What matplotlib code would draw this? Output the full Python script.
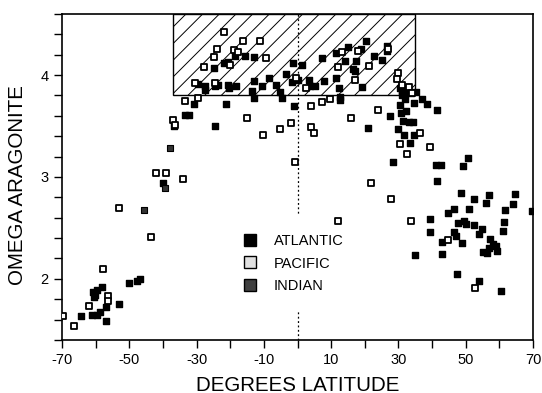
import numpy as np
import matplotlib.pyplot as plt
from matplotlib.lines import Line2D
from matplotlib.patches import Rectangle
from matplotlib.ticker import MultipleLocator, FixedLocator

plt.rcParams['font.family'] = ['Liberation Sans', 'DejaVu Sans']
plt.rcParams['hatch.linewidth'] = 0.7

# Atlantic stations (filled squares)
atl_lat = [-64.4, -61.2, -59.7, -58.8, -60.7, -60.2, -59.5, -58.2, -60.4, -57.0,
           -56.8, -53.1, -50.1, -47.8, -46.8, -40.1, -33.5, -32.3,
           -30.8, -24.6, -21.2, -36.7,
           -21.9, -20.7, -18.7, -15.7, -13.0, -24.8, -29.6, -27.4, -27.6, -24.6,
           -23.7, -20.7, -20.4, -18.2, -13.0, -13.6, -12.8, -10.6, -8.6, -6.3,
           -5.3, -4.6, -1.2, -1.6, -3.3, -0.9,
           1.4, 7.2, 11.3, 14.9, 14.2, 17.4, 16.4, 17.0, 18.9, 20.4, 22.8, 25.1,
           26.5, 26.5, 11.5, 0.1, 3.4, 3.6, 5.3, 8.0, 12.3, 12.5, 19.2, 12.7, 20.9,
           30.5, 31.2, 32.5, 33.8, 31.0, 32.0, 31.8, 35.2, 34.7, 37.0, 38.4, 41.6,
           30.5, 27.5, 30.8, 32.3, 31.3, 33.2, 34.2, 29.8, 31.8, 34.7, 33.5, 28.5,
           41.3, 42.6, 49.3, 50.7, 41.6, 48.6, 52.5, 57.0, 56.0, 64.7, 64.1,
           46.6, 44.6, 51.0, 61.7, 69.6, 39.4, 39.4, 47.6, 49.6, 50.1, 52.5, 54.8,
           53.8, 61.4, 61.1, 46.6, 47.1, 48.9, 42.9, 57.2, 58.2, 56.8, 55.0, 56.2,
           59.4, 58.9, 35.0, 42.9, 47.3, 53.8, 60.4]
atl_om = [1.64, 1.65, 1.65, 1.67, 1.87, 1.84, 1.89, 1.92, 1.82, 1.72,
          1.59, 1.75, 1.96, 1.98, 2.00, 2.94, 3.61, 3.61,
          3.72, 3.50, 3.72, 3.50,
          4.12, 4.13, 4.19, 4.19, 4.18, 4.07, 3.91, 3.89, 3.85, 3.89,
          3.90, 3.90, 3.87, 3.89, 3.94, 3.84, 3.78, 3.89, 3.97, 3.90,
          3.83, 3.78, 4.12, 3.93, 4.01, 3.70,
          4.10, 4.17, 4.22, 4.28, 4.14, 4.14, 4.06, 4.04, 4.26, 4.33, 4.19, 4.15,
          4.29, 4.24, 3.97, 3.95, 3.95, 3.89, 3.89, 3.94, 3.87, 3.79, 3.88, 3.76, 3.48,
          3.87, 3.84, 3.88, 3.82, 3.80, 3.77, 3.83, 3.83, 3.73, 3.77, 3.72, 3.66,
          3.71, 3.60, 3.63, 3.65, 3.55, 3.54, 3.54, 3.47, 3.41, 3.41, 3.33, 3.15,
          3.12, 3.12, 3.11, 3.19, 2.96, 2.84, 2.78, 2.82, 2.74, 2.83, 2.73,
          2.69, 2.65, 2.69, 2.68, 2.67, 2.59, 2.46, 2.55, 2.57, 2.54, 2.53, 2.49,
          2.44, 2.56, 2.47, 2.46, 2.42, 2.35, 2.36, 2.39, 2.34, 2.30, 2.26, 2.25,
          2.27, 2.32, 2.23, 2.24, 2.05, 1.98, 1.88]

# Pacific stations (open squares)
pac_lat = [-69.6, -66.4, -61.9, -57.9, -56.3, -56.4, -53.1, -43.6, -42.2, -39.1,
           -34.0, -37.0, -36.4, -33.5, -29.6,
           -21.7, -16.1, -11.1, -24.0, -24.7, -18.9, -17.7, -9.5, -27.9, -20.0,
           -30.6, -24.6, -14.9, -10.3, -5.3, -2.0, -0.8, -0.5,
           13.3, 17.9, 21.4, 12.0, 17.2, 2.6, 29.8, 29.5, 31.2, 33.0, 3.9, 7.3,
           9.7, 15.9, 23.8, 4.1, 5.0, 12.1, 21.9, 27.8, 36.4, 30.5, 32.4, 39.4,
           33.7, 44.6, 52.8, 26.8, 34.1]
pac_om = [1.64, 1.54, 1.73, 2.10, 1.83, 1.78, 2.70, 2.41, 3.04, 3.04,
          2.98, 3.56, 3.51, 3.75, 3.78,
          4.42, 4.33, 4.33, 4.26, 4.18, 4.25, 4.23, 4.17, 4.08, 4.10,
          3.92, 3.92, 3.58, 3.41, 3.47, 3.53, 3.15, 3.97,
          4.23, 4.24, 4.09, 4.08, 3.95, 3.87, 4.02, 3.96, 3.90, 3.88, 3.70, 3.74,
          3.77, 3.58, 3.66, 3.49, 3.43, 2.57, 2.94, 2.78, 3.43, 3.32, 3.23, 3.29,
          2.57, 2.38, 1.91, 4.26, 3.82]

# Indian stations (dark stippled squares)
ind_lat = [-38.0, -45.6, -39.4]
ind_om = [3.28, 2.68, 2.89]

# hatched band
box_lat = [-37, 35]
box_om = [3.8, 4.6]

fig = plt.figure(figsize=(5.42, 3.93), dpi=100)
ax = fig.add_axes([0.1144, 0.1349, 0.869, 0.8295])

ax.add_patch(Rectangle((box_lat[0], box_om[0]), box_lat[1] - box_lat[0],
                       box_om[1] - box_om[0], facecolor='none', edgecolor='black',
                       hatch='//', lw=1.0, zorder=1))
ax.axvline(0, color='black', ls=(0, (1.5, 2)), lw=0.9, zorder=1)

ax.scatter(atl_lat, atl_om, marker='s', s=24, c='black', zorder=3)
ax.scatter(pac_lat, pac_om, marker='s', s=18, facecolor='white',
           edgecolor='black', linewidths=1.3, zorder=3)
ax.scatter(ind_lat, ind_om, marker='s', s=24, facecolor='0.2',
           edgecolor='black', linewidths=0.8, zorder=3)

handles = [
    Line2D([], [], marker='s', ls='none', ms=8.5, mfc='black', mec='black'),
    Line2D([], [], marker='s', ls='none', ms=8, mfc='0.88', mec='black', mew=1.0),
    Line2D([], [], marker='s', ls='none', ms=8.5, mfc='0.25', mec='black'),
]
leg = ax.legend(handles, ['ATLANTIC', 'PACIFIC', 'INDIAN'], loc='center',
                bbox_to_anchor=(-1.5, 2.15), bbox_transform=ax.transData,
                fontsize=10.5, frameon=True, fancybox=False, borderpad=1.3,
                labelspacing=0.6, handletextpad=1.0, handlelength=1.2,
                framealpha=1.0)
leg.get_frame().set_edgecolor('none')
leg.get_frame().set_facecolor('white')
leg.set_zorder(2)

ax.set_xlim(-70, 70)
ax.set_ylim(1.4, 4.6)
ax.set_xticks([-70, -50, -30, -10, 10, 30, 50, 70],
              ['-70', '-50', '-30', '-10', '10', '30', '50', '70'])
ax.xaxis.set_minor_locator(FixedLocator([-60, -40, -20, 0, 20, 40, 60]))
ax.set_yticks([2, 3, 4], ['2', '3', '4'])
ax.yaxis.set_minor_locator(MultipleLocator(0.2))
ax.tick_params(which='both', direction='out', length=6, width=1.0, labelsize=10.5)
for s in ax.spines.values():
    s.set_linewidth(1.2)

ax.set_xlabel('DEGREES LATITUDE', fontsize=14.8, labelpad=6)
ax.set_ylabel('OMEGA ARAGONITE', fontsize=14.8)
ax.yaxis.set_label_coords(-0.074, 0.475)

fig.savefig('out.png', dpi=100)
